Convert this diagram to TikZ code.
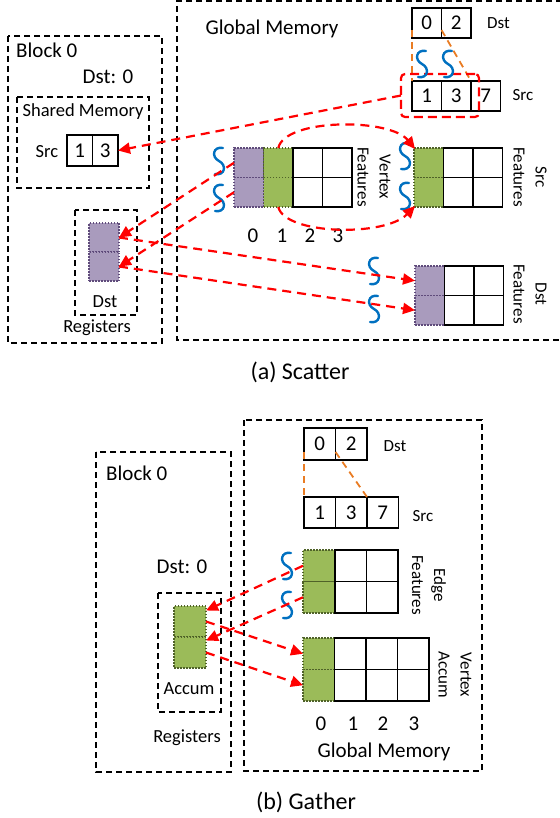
\documentclass[tikz,border=0pt]{standalone}
\usepackage{fontspec}
\setmainfont{Carlito}
\usetikzlibrary{arrows.meta}
\definecolor{purp}{HTML}{A99BBD}
\definecolor{purpd}{HTML}{5F4B7B}
\definecolor{grn}{HTML}{9BBB59}
\definecolor{grnd}{HTML}{4F6228}
\definecolor{wblue}{HTML}{0070C0}
\definecolor{orng}{HTML}{E97C23}
\definecolor{rred}{HTML}{FF0000}
\begin{document}
\begin{tikzpicture}[x=1pt,y=-1pt,
  box/.style={draw=black, line width=1.5pt, dash pattern=on 6pt off 4pt},
  wc/.style={draw=black, line width=1.9pt, fill=white, inner sep=0pt, outer sep=0pt, anchor=north west, font=\fontsize{21}{24}\selectfont},
  pc/.style={draw=purpd, fill=purp, line width=1.1pt, dash pattern=on 1.5pt off 1.5pt, inner sep=0pt, outer sep=0pt, anchor=north west},
  gc/.style={pc, draw=grnd, fill=grn},
  ar/.style={draw=rred, line width=2.2pt, dash pattern=on 9pt off 6pt, -{Triangle[length=12pt,width=11pt]}},
  ol/.style={draw=orng, line width=1.8pt, dash pattern=on 7pt off 5pt},
  f20/.style={font=\fontsize{21}{24}\selectfont, inner sep=0pt},
  f18/.style={font=\fontsize{18.5}{22}\selectfont, inner sep=0pt},
  f17/.style={font=\fontsize{17}{22}\selectfont, inner sep=0pt},
  rl/.style={f17, rotate=-90, align=center},
  wave/.pic={\draw[wblue, line width=2.4pt, line cap=round] (4,-13) .. controls (-6,-15) and (-8,-4) .. (0,0) .. controls (8,4) and (6,15) .. (-4,13);}
]
\useasboundingbox (0,0) rectangle (559,818);

% ================= (a) Scatter =================
\draw[box] (562,1) -- (177,1) -- (177,340) -- (562,340);
\draw[box] (8,36) rectangle (162,343);
\draw[box] (17,97) rectangle (149,188);
\draw[box] (75,210) rectangle (137,315);

\node[f20] (gmt) at (272,29) {Global Memory};
\node[f20, anchor=west] (blk0) at (16,50) {Block 0};
\node[f20] (dst0) at (108,77) {Dst: 0};
\node[f18] (shm) at (83,112) {Shared Memory};
\node[f18] (srcl) at (47,152) {Src};
\node[wc, minimum width=25.5pt, minimum height=31pt] (ss1) at (67,135) {1};
\node[wc, minimum width=25.5pt, minimum height=31pt] (ss2) at (92.5,135) {3};

\node[pc, minimum width=30pt, minimum height=29pt] (rp1) at (89,223) {};
\node[pc, minimum width=30pt, minimum height=29pt] (rp2) at (89,252) {};
\node[f18] (dstr) at (105,302) {Dst};
\node[f18] (regs) at (97,328) {Registers};

% Dst / Src index arrays
\node[wc, minimum width=29.5pt, minimum height=30pt] (td1) at (412,8) {0};
\node[wc, minimum width=29.5pt, minimum height=30pt] (td2) at (441.5,8) {2};
\node[f17, anchor=west] (tdl) at (487,23) {Dst};
\node[wc, minimum width=29.5pt, minimum height=30pt] (ts1) at (412,81) {1};
\node[wc, minimum width=29.5pt, minimum height=30pt] (ts2) at (441.5,81) {3};
\node[wc, minimum width=29.5pt, minimum height=30pt] (ts3) at (471,81) {7};
\node[f17] (tsl) at (523,95) {Src};
\draw[ol] ([yshift=8pt]td1.south west) -- (ts1.north west);
\draw[ol] ([yshift=8pt]td1.south east) -- (ts3.north west);
\node[draw=rred, line width=2.2pt, dash pattern=on 9pt off 5pt, rounded corners=4pt, minimum width=78pt, minimum height=43pt, inner sep=0pt, outer sep=0pt, anchor=north west] (sel) at (401,74) {};

% Vertex features
\node[pc, minimum width=29.5pt, minimum height=29.5pt] (vp1) at (234,148) {};
\node[pc, minimum width=29.5pt, minimum height=29.5pt] (vp2) at (234,177.5) {};
\node[gc, minimum width=29.5pt, minimum height=29.5pt] (vg1) at (263.5,148) {};
\node[gc, minimum width=29.5pt, minimum height=29.5pt] (vg2) at (263.5,177.5) {};
\node[wc, minimum width=29.5pt, minimum height=29.5pt] (vw11) at (293,148) {};
\node[wc, minimum width=29.5pt, minimum height=29.5pt] (vw12) at (322.5,148) {};
\node[wc, minimum width=29.5pt, minimum height=29.5pt] (vw21) at (293,177.5) {};
\node[wc, minimum width=29.5pt, minimum height=29.5pt] (vw22) at (322.5,177.5) {};
\node[rl] (vfl) at (374,177) {Vertex\\Features};
\node[f20] (tn0) at (253,236) {0};
\node[f20] (tn1) at (282,236) {1};
\node[f20] (tn2) at (310,236) {2};
\node[f20] (tn3) at (338,236) {3};

% Src features
\node[gc, minimum width=29.5pt, minimum height=29.5pt] (sg1) at (414,148) {};
\node[gc, minimum width=29.5pt, minimum height=29.5pt] (sg2) at (414,177.5) {};
\node[wc, minimum width=29.5pt, minimum height=29.5pt] (sw11) at (443.5,148) {};
\node[wc, minimum width=29.5pt, minimum height=29.5pt] (sw12) at (473,148) {};
\node[wc, minimum width=29.5pt, minimum height=29.5pt] (sw21) at (443.5,177.5) {};
\node[wc, minimum width=29.5pt, minimum height=29.5pt] (sw22) at (473,177.5) {};
\node[rl] (sfl) at (530,177) {Src\\Features};

% Dst features
\node[pc, minimum width=29.5pt, minimum height=29.5pt] (dp1) at (415,266) {};
\node[pc, minimum width=29.5pt, minimum height=29.5pt] (dp2) at (415,295.5) {};
\node[wc, minimum width=29.5pt, minimum height=29.5pt] (dw11) at (444.5,266) {};
\node[wc, minimum width=29.5pt, minimum height=29.5pt] (dw12) at (474,266) {};
\node[wc, minimum width=29.5pt, minimum height=29.5pt] (dw21) at (444.5,295.5) {};
\node[wc, minimum width=29.5pt, minimum height=29.5pt] (dw22) at (474,295.5) {};
\node[rl] (dfl) at (530,294) {Dst\\Features};

% waves
\pic at (219,161) {wave};
\pic at (219,198) {wave};
\pic at (405,156) {wave};
\pic at (405,196) {wave};
\pic at (422,64) {wave};
\pic at (448,64) {wave};
\pic at (374,271) {wave};
\pic at (374,309) {wave};

% arrows
\draw[ar] (sel.west) -- (ss2.east);
\draw[ar] (vp1.west) -- (rp1.east);
\draw[ar] (vp2.west) -- (rp2.east);
\draw[ar] (rp1.east) -- (dp1.west);
\draw[ar] (rp2.east) -- (dp2.west);
\draw[ar] (vg1.north) .. controls +(7,-30) and +(-25,-31) .. ([shift={(1,1)}]sg1.north west);
\draw[ar] (vg2.south) .. controls +(7,28) and +(-30,31) .. ([shift={(1,-1)}]sg2.south west);

\node[font=\fontsize{24}{28}\selectfont, inner sep=0pt] (capa) at (300,372) {(a) Scatter};

% ================= (b) Gather =================
\draw[box] (96,452) rectangle (231,772);
\draw[box] (244,420) rectangle (482,771);
\draw[box] (158,593) rectangle (221,712);
\node[f20, anchor=west] (blk1) at (106,473) {Block 0};
\node[f20] (dst1) at (182,567) {Dst: 0};
\node[gc, minimum width=32pt, minimum height=31pt] (ac1) at (174,606) {};
\node[gc, minimum width=32pt, minimum height=31pt] (ac2) at (174,637) {};
\node[f18] (accl) at (189,689) {Accum};
\node[f18] (reg2) at (187,738) {Registers};

\node[wc, minimum width=31.5pt, minimum height=32pt] (bd1) at (304,428) {0};
\node[wc, minimum width=31.5pt, minimum height=32pt] (bd2) at (335.5,428) {2};
\node[f17] (bdl) at (395,446) {Dst};
\node[wc, minimum width=31.5pt, minimum height=31pt] (bs1) at (304,497) {1};
\node[wc, minimum width=31.5pt, minimum height=31pt] (bs2) at (335.5,497) {3};
\node[wc, minimum width=31.5pt, minimum height=31pt] (bs3) at (367,497) {7};
\node[f17] (bsl) at (423,516) {Src};
\draw[ol] ([yshift=8pt]bd1.south west) -- (bs1.north west);
\draw[ol] ([yshift=8pt]bd1.south east) -- (bs3.north west);

\node[gc, minimum width=32pt, minimum height=31.5pt] (eg1) at (303,550) {};
\node[gc, minimum width=32pt, minimum height=31.5pt] (eg2) at (303,581.5) {};
\node[wc, minimum width=31.5pt, minimum height=31.5pt] (ew11) at (335,550) {};
\node[wc, minimum width=31.5pt, minimum height=31.5pt] (ew12) at (366.5,550) {};
\node[wc, minimum width=31.5pt, minimum height=31.5pt] (ew21) at (335,581.5) {};
\node[wc, minimum width=31.5pt, minimum height=31.5pt] (ew22) at (366.5,581.5) {};
\node[rl] (efl) at (429,585) {Edge\\Features};

\node[gc, minimum width=31.5pt, minimum height=31.5pt] (ag1) at (303,638) {};
\node[gc, minimum width=31.5pt, minimum height=31.5pt] (ag2) at (303,669.5) {};
\node[wc, minimum width=31.5pt, minimum height=31.5pt] (aw11) at (334.5,638) {};
\node[wc, minimum width=31.5pt, minimum height=31.5pt] (aw12) at (366,638) {};
\node[wc, minimum width=31.5pt, minimum height=31.5pt] (aw13) at (397.5,638) {};
\node[wc, minimum width=31.5pt, minimum height=31.5pt] (aw21) at (334.5,669.5) {};
\node[wc, minimum width=31.5pt, minimum height=31.5pt] (aw22) at (366,669.5) {};
\node[wc, minimum width=31.5pt, minimum height=31.5pt] (aw23) at (397.5,669.5) {};
\node[rl] (val) at (455,675) {Vertex\\Accum};
\node[f20] (bn0) at (321,724) {0};
\node[f20] (bn1) at (353,724) {1};
\node[f20] (bn2) at (383,724) {2};
\node[f20] (bn3) at (414,724) {3};
\node[f20] (gml) at (384,752) {Global Memory};

\pic at (287,566) {wave};
\pic at (287,605) {wave};

\draw[ar] (eg1.west) -- ([yshift=11pt]ac1.east);
\draw[ar] (eg2.west) -- ([yshift=12pt]ac2.east);
\draw[ar] (ac1.east) -- (ag1.west);
\draw[ar] (ac2.east) -- (ag2.west);

\node[font=\fontsize{24}{28}\selectfont, inner sep=0pt] (capb) at (306,802) {(b) Gather};
\end{tikzpicture}
\end{document}
